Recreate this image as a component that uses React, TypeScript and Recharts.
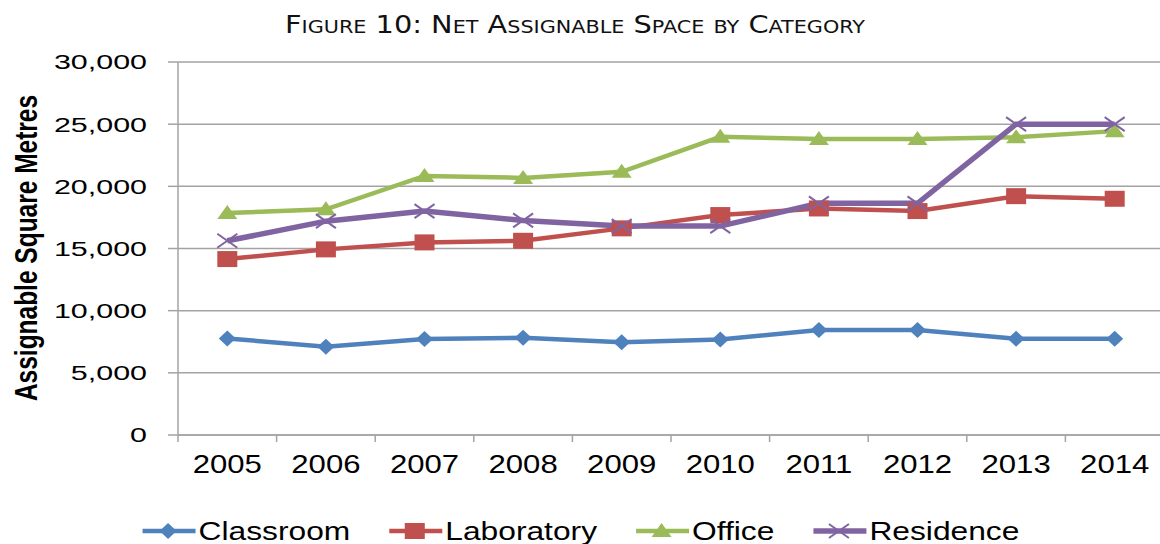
import { LineChart, Line, XAxis, YAxis, CartesianGrid, Legend } from 'recharts'

const years = ['2005', '2006', '2007', '2008', '2009', '2010', '2011', '2012', '2013', '2014']
const classroom = [7770, 7100, 7720, 7820, 7450, 7690, 8440, 8440, 7750, 7740]
const laboratory = [14150, 14930, 15490, 15620, 16620, 17690, 18220, 18010, 19210, 19000]
const office = [17850, 18150, 20840, 20680, 21170, 23980, 23800, 23800, 23950, 24440]
const residence = [15620, 17200, 18010, 17260, 16800, 16800, 18630, 18630, 25000, 25000]
const yTicks = [0, 5000, 10000, 15000, 20000, 25000, 30000]

const seriesNames = ['Classroom', 'Laboratory', 'Office', 'Residence']
const seriesValues = [classroom, laboratory, office, residence]
const colors = ['#4F81BD', '#C0504D', '#9BBB59', '#8064A2']
const markers = ['diamond', 'square', 'triangle', 'cross']
const widths = [4.5, 4.5, 4.5, 5.5]

const data = years.map((year, i) => {
  const row: Record<string, string | number> = { year }
  seriesNames.forEach((n, s) => { row[n] = seriesValues[s][i] })
  return row
})

const W = 1160
const H = 544
const PLOT_LEFT = 178
const PLOT_W = 986
const HALF_BAND = PLOT_W / years.length / 2
const GRID = '#A3A3A3'
const FONT = '"Liberation Sans", Arial, sans-serif'

const fmt = (v: number) => v.toLocaleString('en-US')

function Marker({ kind, cx, cy, color }: { kind: string; cx: number; cy: number; color: string }) {
  if (kind === 'diamond')
    return <polygon points={`${cx},${cy - 8} ${cx + 8.5},${cy} ${cx},${cy + 8} ${cx - 8.5},${cy}`} fill={color} />
  if (kind === 'square')
    return <rect x={cx - 10} y={cy - 8} width={20} height={16} fill={color} />
  if (kind === 'triangle')
    return <polygon points={`${cx},${cy - 8} ${cx + 10},${cy + 6} ${cx - 10},${cy + 6}`} fill={color} />
  return (
    <g stroke={color} strokeWidth={2}>
      <line x1={cx - 10} y1={cy - 7} x2={cx + 10} y2={cy + 7} />
      <line x1={cx - 10} y1={cy + 7} x2={cx + 10} y2={cy - 7} />
    </g>
  )
}

const YTick = (p: any) => (
  <text transform={`translate(${p.x},${p.y}) scale(1.45,1)`} textAnchor="end" dy="0.355em"
    fontSize={21} fontFamily={FONT} fill="#000">
    {fmt(p.payload.value)}
  </text>
)

const XTick = (p: any) => {
  const last = p.index === years.length - 1
  return (
    <g>
      <line x1={p.x - HALF_BAND} x2={p.x - HALF_BAND} y1={p.y} y2={p.y + 7} stroke={GRID} strokeWidth={1.5} />
      {last && <line x1={p.x + HALF_BAND} x2={p.x + HALF_BAND} y1={p.y} y2={p.y + 7} stroke={GRID} strokeWidth={1.5} />}
      <text transform={`translate(${p.x},${p.y + 38}) scale(1.22,1)`} textAnchor="middle"
        fontSize={25.5} fontFamily={FONT} fill="#000">
        {p.payload.value}
      </text>
    </g>
  )
}

let ctx: CanvasRenderingContext2D | null = null
function measure(s: string, font: string) {
  if (!ctx) ctx = document.createElement('canvas').getContext('2d')
  if (!ctx) return s.length * 12
  ctx.font = font
  return ctx.measureText(s).width
}

function renderLegend() {
  const sx = 1.27
  const font = `25px ${FONT}`
  const icon = 55
  const gap = 37
  const items = seriesNames.map(n => measure(n, font) * sx)
  const total = items.reduce((a, w) => a + icon + 3 + w, 0) + gap * (items.length - 1)
  let x = 580 - total / 2
  return (
    <svg width={W} height={34} style={{ display: 'block' }}>
      {seriesNames.map((n, i) => {
        const x0 = x
        x += icon + 3 + items[i] + gap
        return (
          <g key={n}>
            <line x1={x0 + 2} x2={x0 + icon} y1={21} y2={21} stroke={colors[i]} strokeWidth={widths[i]} />
            <Marker kind={markers[i]} cx={x0 + icon / 2} cy={21} color={colors[i]} />
            <text transform={`translate(${x0 + icon + 3},30) scale(${sx},1)`} fontSize={25} fontFamily={FONT} fill="#000">{n}</text>
          </g>
        )
      })}
    </svg>
  )
}

export default function App() {
  return (
    <div style={{ position: 'absolute', left: 0, top: 0, width: W, height: H, background: '#fff', overflow: 'hidden' }}>
      <LineChart width={W} height={H} data={data} margin={{ top: 62, right: W - PLOT_LEFT - PLOT_W, left: 0, bottom: 0 }}>
        <CartesianGrid vertical={false} stroke={GRID} strokeWidth={1.5} />
        <XAxis dataKey="year" padding={{ left: HALF_BAND, right: HALF_BAND }} height={75}
          tickLine={false} tickSize={0} tickMargin={0} axisLine={{ stroke: GRID, strokeWidth: 1.5 }}
          tick={XTick} interval={0} />
        <YAxis width={PLOT_LEFT} domain={[0, 30000]} ticks={yTicks} tickSize={10} tickMargin={21}
          axisLine={{ stroke: GRID, strokeWidth: 1.5 }} tickLine={{ stroke: GRID, strokeWidth: 1.5 }}
          tick={YTick} interval={0} />
        <Legend verticalAlign="bottom" content={renderLegend} />
        {seriesNames.map((n, i) => (
          <Line key={n} dataKey={n} stroke={colors[i]} strokeWidth={widths[i]} isAnimationActive={false}
            dot={(p: any) => <Marker key={`${n}-${p.index}`} kind={markers[i]} cx={p.cx} cy={p.cy} color={colors[i]} />} />
        ))}
      </LineChart>
      <svg width={W} height={H} style={{ position: 'absolute', left: 0, top: 0, pointerEvents: 'none' }}>
        <text x={575} y={33} textAnchor="middle" fontFamily='"DejaVu Sans", Verdana, sans-serif' fontSize={25}
          style={{ fontVariant: 'small-caps' }} textLength={580} lengthAdjust="spacingAndGlyphs" fill="#111">
          Figure 10: Net Assignable Space by Category
        </text>
        <text transform="translate(37,248) rotate(-90) scale(1,1.25)" textAnchor="middle" fontFamily={FONT}
          fontWeight="bold" fontSize={24.5} fill="#000">
          Assignable Square Metres
        </text>
      </svg>
    </div>
  )
}
